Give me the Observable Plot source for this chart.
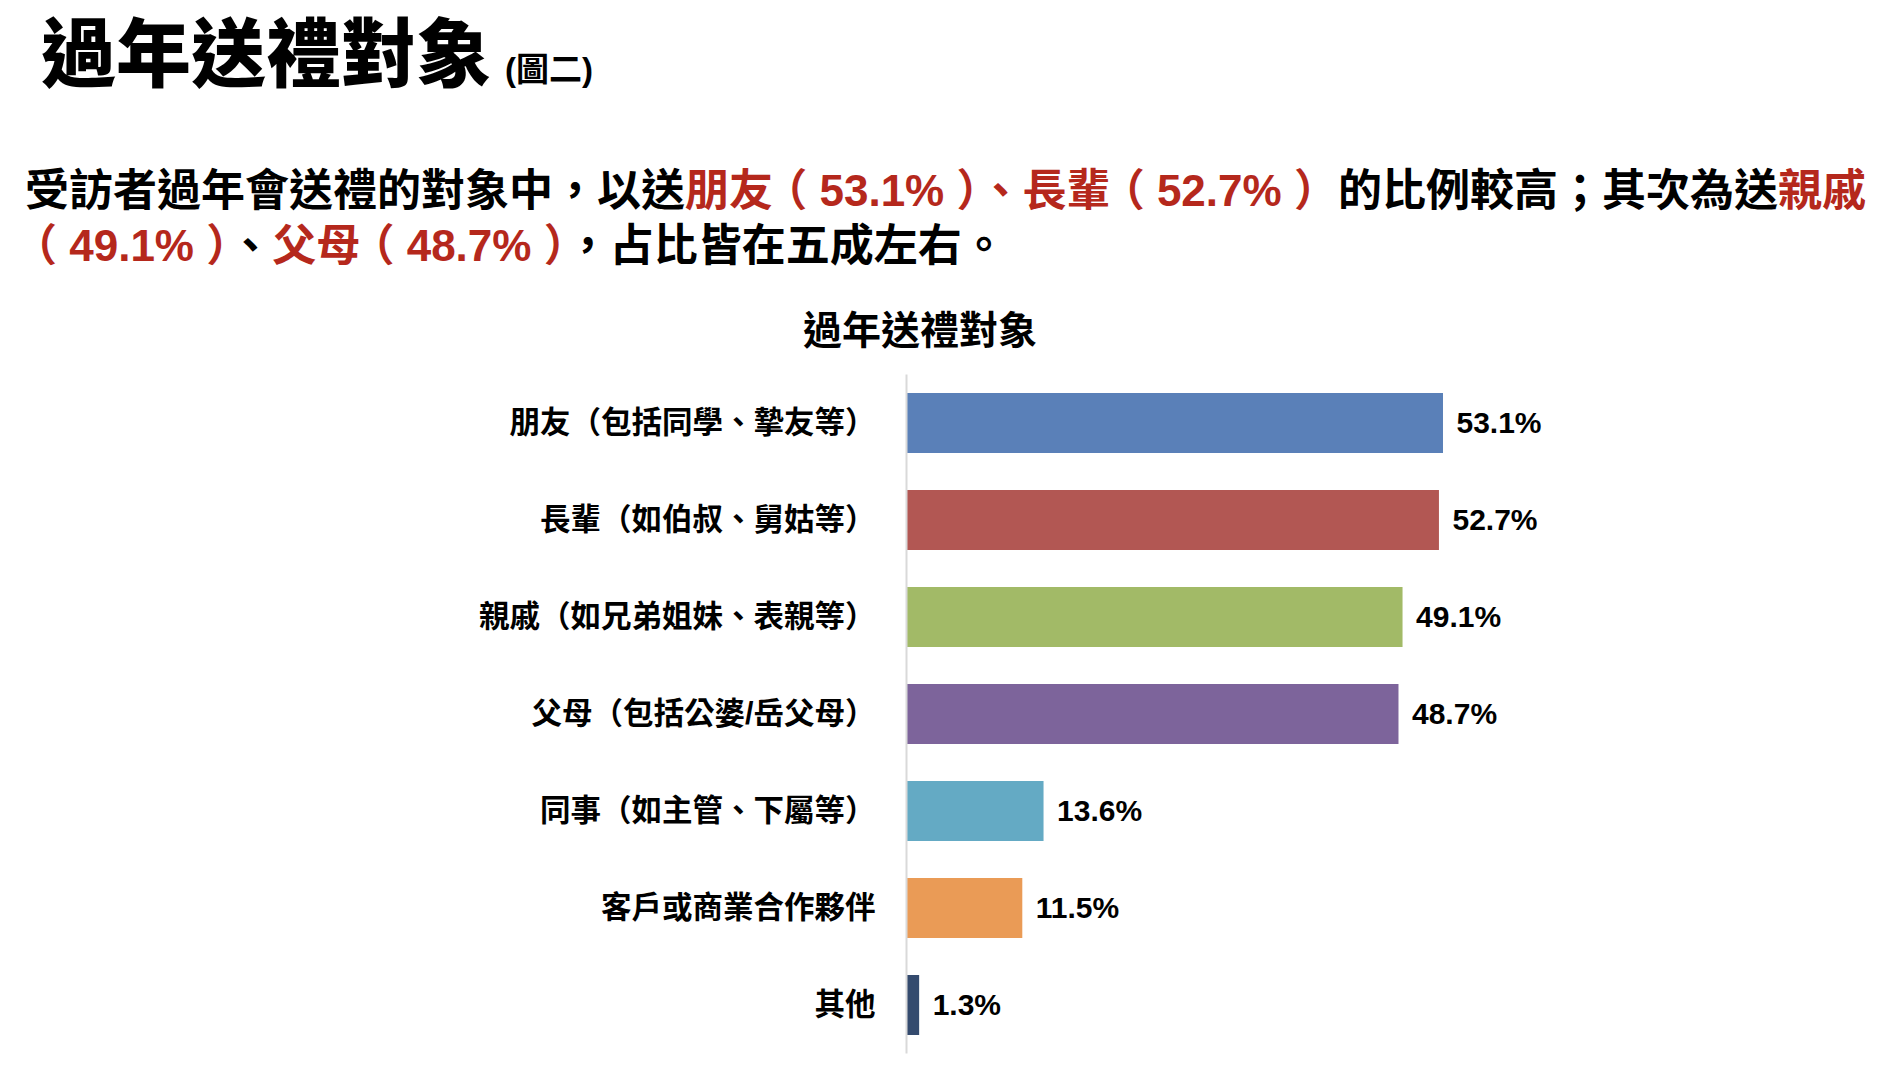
<!DOCTYPE html>
<html>
<head>
<meta charset="utf-8">
<script src="https://cdn.jsdelivr.net/npm/d3@7"></script>
<script src="https://cdn.jsdelivr.net/npm/@observablehq/plot@0.6"></script>
<style>
  html, body { margin: 0; padding: 0; background: #fff; }
  body { width: 1898px; height: 1076px; position: relative; overflow: hidden;
         font-family: "Liberation Sans", "Noto Sans CJK TC", sans-serif; color: #000; }
  #title { position: absolute; left: 41px; top: 4px; font-size: 75px; line-height: 90px;
           font-weight: 900; white-space: nowrap; font-family: "Noto Sans CJK TC", sans-serif; }
  #title .sub { font-size: 33px; font-weight: 700; margin-left: 14px; font-family: "Liberation Sans", "Noto Sans CJK TC", sans-serif; }
  #subtitle { position: absolute; left: 25px; top: 163px; font-size: 44px; line-height: 55px;
              font-weight: 700; white-space: nowrap; }
  #subtitle .r { color: #B5281C; }
  #subtitle .p { font-feature-settings: "halt" 1; }
  #subtitle .l2 { margin-left: 10px; }
  #charttitle { position: absolute; left: 803px; top: 308px; font-size: 39px; line-height: 39px;
                font-weight: 700; white-space: nowrap; font-family: "Noto Sans CJK TC", sans-serif; }
  #chart { position: absolute; left: 0; top: 360px; }
</style>
</head>
<body>
<div id="title">過年送禮對象<span class="sub">(圖二)</span></div>
<div id="subtitle">受訪者過年會送禮的對象中，以送<span class="r">朋友 <span class="p">（</span> 53.1% ）、長輩 <span class="p">（</span> 52.7% ）</span>的比例較高；其次為送<span class="r">親戚</span><br><span class="r l2"><span class="p">（</span> 49.1% ）</span>、<span class="r">父母 <span class="p">（</span> 48.7% ）</span>，占比皆在五成左右。</div>
<div id="charttitle">過年送禮對象</div>
<div id="chart"></div>
<script>
const categories = [
  "朋友（包括同學、摯友等）",
  "長輩（如伯叔、舅姑等）",
  "親戚（如兄弟姐妹、表親等）",
  "父母（包括公婆/岳父母）",
  "同事（如主管、下屬等）",
  "客戶或商業合作夥伴",
  "其他"
];
const values = [53.1, 52.7, 49.1, 48.7, 13.6, 11.5, 1.3];
const colors = ["#5A80B8", "#B25753", "#A2BA67", "#7D649B", "#64AAC4", "#EA9B56", "#344B6E"];

const data = categories.map((c, i) => ({category: c, value: values[i]}));

const chart = Plot.plot({
  width: 1898,
  height: 716,
  marginLeft: 906,
  marginRight: 435.8,
  marginTop: 14.5,
  marginBottom: 22.5,
  style: {color: "#000", background: "transparent", fontFamily: "'Liberation Sans', 'Noto Sans CJK TC', sans-serif"},
  x: {domain: [0, 55], axis: null},
  y: {domain: categories, paddingInner: 0.381, paddingOuter: 0.19, label: null},
  color: {domain: categories, range: colors},
  marks: [
    Plot.barX(data, {x: "value", y: "category", fill: "category"}),
    Plot.ruleX([0], {stroke: "#d9d9d9", strokeWidth: 2}),
    Plot.axisY({tickSize: 0, tickPadding: 31, fontSize: 30.5, fontWeight: "bold", label: null}),
    Plot.text(data, {x: "value", y: "category", text: d => d.value.toFixed(1) + "%",
      dx: 13, textAnchor: "start", fontSize: 30, fontWeight: "bold", fill: "#000"})
  ]
});
document.getElementById("chart").appendChild(chart);
</script>
</body>
</html>
